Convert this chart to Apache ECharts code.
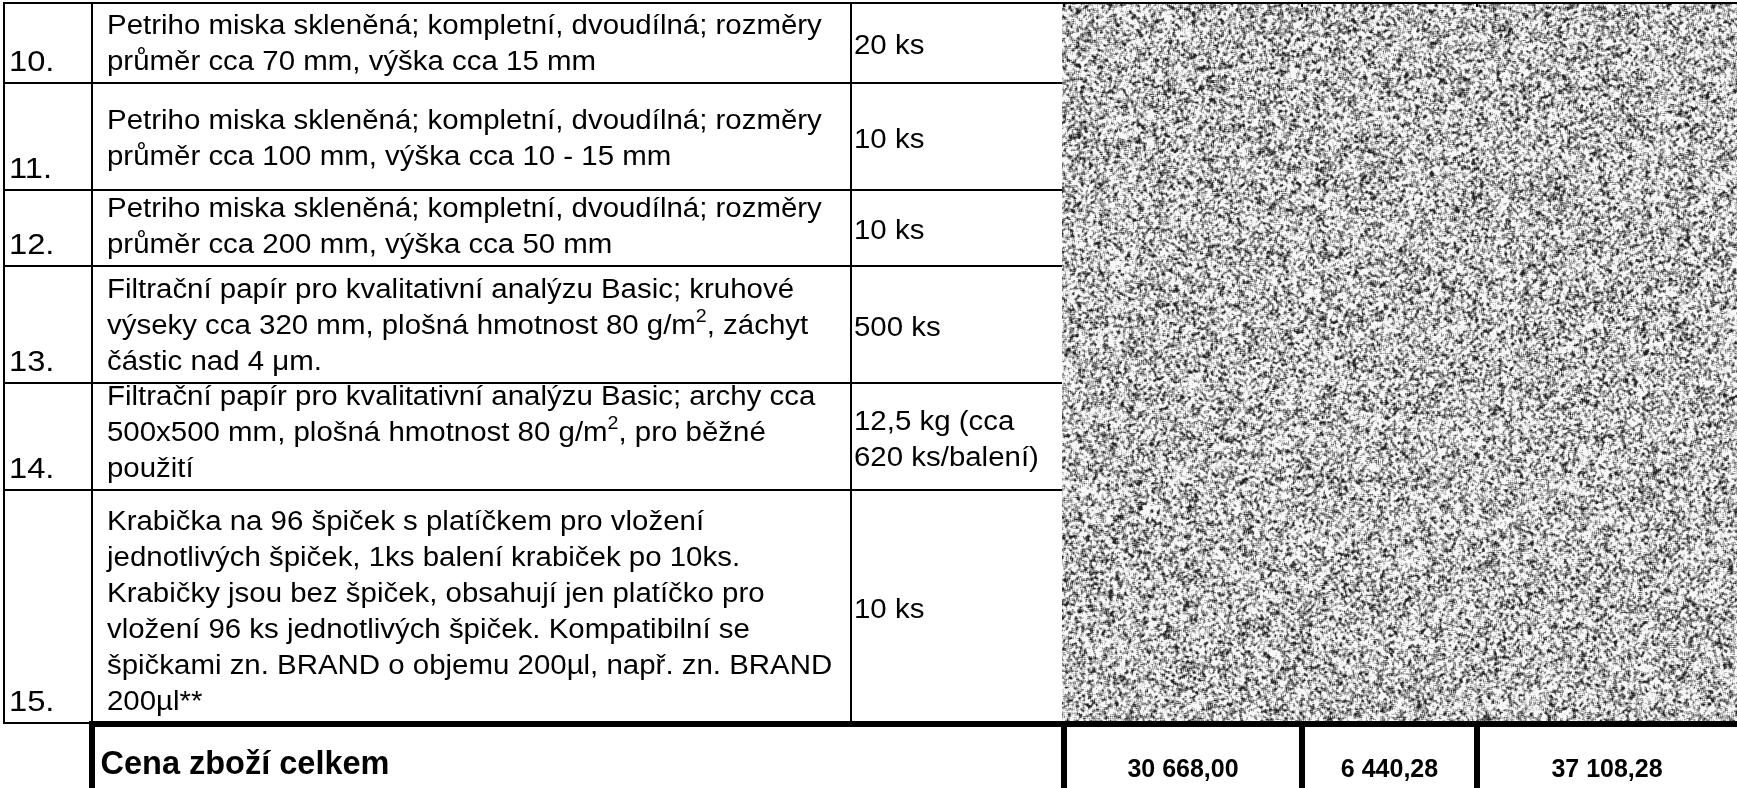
<!DOCTYPE html>
<html>
<head>
<meta charset="utf-8">
<script src="https://cdn.jsdelivr.net/npm/echarts@6/dist/echarts.min.js"></script>
<style type="text/css">
	html,body{margin:0;padding:0;background:#fff;}
	#main{width:1737px;height:788px;}
</style>
</head>
<body>
<div id="main"></div>
<script type="text/javascript">
// table content
var rowNumbers = ['10.', '11.', '12.', '13.', '14.', '15.'];
var descriptions = [
	['Petriho miska skleněná; kompletní, dvoudílná; rozměry', 'průměr cca 70 mm, výška cca 15 mm'],
	['Petriho miska skleněná; kompletní, dvoudílná; rozměry', 'průměr cca 100 mm, výška cca 10 - 15 mm'],
	['Petriho miska skleněná; kompletní, dvoudílná; rozměry', 'průměr cca 200 mm, výška cca 50 mm'],
	['Filtrační papír pro kvalitativní analýzu Basic; kruhové', 'výseky cca 320 mm, plošná hmotnost 80 g/m², záchyt', 'částic nad 4 μm.'],
	['Filtrační papír pro kvalitativní analýzu Basic; archy cca', '500x500 mm, plošná hmotnost 80 g/m², pro běžné', 'použití'],
	['Krabička na 96 špiček s platíčkem pro vložení', 'jednotlivých špiček, 1ks balení krabiček po 10ks.', 'Krabičky jsou bez špiček, obsahují jen platíčko pro', 'vložení 96 ks jednotlivých špiček. Kompatibilní se', 'špičkami zn. BRAND o objemu 200µl, např. zn. BRAND', '200µl**']
];
var quantities = [['20 ks'], ['10 ks'], ['10 ks'], ['500 ks'], ['12,5 kg (cca', '620 ks/balení)'], ['10 ks']];
var totalLabel = 'Cena zboží celkem';
var totalValues = ['30 668,00', '6 440,28', '37 108,28'];

// layout (pixels of the 1737x788 page)
var rowEdges = [3, 83, 190, 266, 383, 490, 723];
var descAlign = ['bottom', 'middle', 'bottom', 'bottom', 'bottom', 'bottom'];
var colEdges = [4, 92, 851, 1062];
var totalCols = [92, 1064, 1302, 1477, 1737];
var totalTop = 724, pageW = 1737, pageH = 788;
var FONT = '"Liberation Sans", Arial, sans-serif';
var STRETCH = 1.09;
var LINE_H = 36;

var mctx = document.createElement('canvas').getContext('2d');

// grey speckle for the blanked-out price columns (deterministic hash, not data)
function buildNoise(w, h){
	var c = document.createElement('canvas');
	c.width = w; c.height = h;
	var ctx = c.getContext('2d');
	var img = ctx.createImageData(w, h);
	function hash(x, y){
		var n = Math.imul(x, 374761393) ^ Math.imul(y, 668265263) ^ 0x5bd1e995;
		n = Math.imul(n ^ (n >>> 13), 1274126177);
		n = n ^ (n >>> 16);
		return (n >>> 0) / 4294967295;
	}
	var W = w + 2, H = h + 2;
	var base = new Float32Array(W * H);
	for (var y = 0; y < H; y++){
		for (var x = 0; x < W; x++) base[y * W + x] = hash(x, y);
	}
	for (var yy = 0; yy < h; yy++){
		for (var xx = 0; xx < w; xx++){
			var s = 0;
			for (var dy = 0; dy <= 2; dy++){
				for (var dx = 0; dx <= 2; dx++){
					s += base[(yy + dy) * W + xx + dx];
				}
			}
			s = s / 9;
			var g = 192 + (s - 0.5) * 760;
			g = Math.max(35, Math.min(248, g));
			var k = (yy * w + xx) * 4;
			img.data[k] = img.data[k + 1] = img.data[k + 2] = g;
			img.data[k + 3] = 255;
		}
	}
	ctx.putImageData(img, 0, 0);
	return c;
}
var noiseCanvas = buildNoise(pageW - colEdges[3], rowEdges[6] - 2 - rowEdges[0]);

function line(api, x1, y1, x2, y2, w){
	var a = api.coord([x1, y1]), b = api.coord([x2, y2]);
	return {type: 'line', shape: {x1: a[0], y1: a[1], x2: b[0], y2: b[1]}, style: {stroke: '#000', lineWidth: w}};
}

function textEl(p, str, size, weight, align, sx){
	return {
		type: 'text', x: p[0], y: p[1], scaleX: sx || 1,
		style: {text: str, fill: '#000', fontSize: size, fontFamily: FONT, fontWeight: weight || 'normal', align: align || 'left', verticalAlign: 'middle'}
	};
}

// one line of cell text, the ² is drawn as a raised small 2
function cellLine(p, str){
	var parts = str.split('²');
	if (parts.length === 1) return [textEl(p, str, 27, 'normal', 'left', STRETCH)];
	mctx.font = '27px ' + FONT;
	var w1 = mctx.measureText(parts[0]).width * STRETCH;
	mctx.font = '18px ' + FONT;
	var w2 = mctx.measureText('2').width * STRETCH;
	return [
		textEl(p, parts[0], 27, 'normal', 'left', STRETCH),
		textEl([p[0] + w1, p[1] - 10], '2', 18, 'normal', 'left', STRETCH),
		textEl([p[0] + w1 + w2, p[1]], parts[1], 27, 'normal', 'left', STRETCH)
	];
}

function renderRow(params, api){
	var i = api.value(0);
	var top = rowEdges[i], bot = rowEdges[i + 1], mid = (top + bot) / 2;
	var kids = [];
	if (i === 0) kids.push(line(api, colEdges[0] - 1, top, pageW, top, 2));
	kids.push(line(api, colEdges[0] - 1, bot, colEdges[3], bot, 2));
	for (var c = 0; c < 3; c++){
		kids.push(line(api, colEdges[c], top - 1, colEdges[c], bot + 1, 2));
	}
	// item number sits at the bottom of the cell
	kids.push(textEl(api.coord([colEdges[0] + 5, bot - 20]), rowNumbers[i], 30, 'normal', 'left', STRETCH));
	var d = descriptions[i];
	var last = descAlign[i] === 'bottom' ? bot - 20 : mid + 3 + (d.length - 1) / 2 * LINE_H;
	for (var k = 0; k < d.length; k++){
		var y = last - (d.length - 1 - k) * LINE_H;
		kids = kids.concat(cellLine(api.coord([colEdges[1] + 15, y]), d[k]));
	}
	var q = quantities[i];
	for (var m = 0; m < q.length; m++){
		var yq = mid + 4 + (m - (q.length - 1) / 2) * LINE_H;
		kids.push(textEl(api.coord([colEdges[2] + 3, yq]), q[m], 27, 'normal', 'left', STRETCH));
	}
	return {type: 'group', children: kids};
}

var totalCells = [totalLabel].concat(totalValues);
function renderTotal(params, api){
	var j = api.value(0);
	var kids = [];
	if (j === 0) kids.push(line(api, totalCols[0] - 3, totalTop, pageW, totalTop, 6));
	kids.push(line(api, totalCols[j], totalTop - 3, totalCols[j], pageH, 6));
	if (j === 0){
		kids.push(textEl(api.coord([totalCols[0] + 8.5, 765]), totalCells[j], 32.5, 'bold', 'left'));
	} else {
		kids.push(line(api, totalCols[j], rowEdges[0], totalCols[j], rowEdges[0] + 4, 2));
		kids.push(textEl(api.coord([(totalCols[j] + totalCols[j + 1]) / 2, 770]), totalCells[j], 25, 'bold', 'center'));
	}
	return {type: 'group', children: kids};
}

function renderNoise(params, api){
	var a = api.coord([colEdges[3], rowEdges[0] + 1]);
	var b = api.coord([pageW, rowEdges[6] - 1]);
	return {type: 'image', style: {image: noiseCanvas, x: a[0], y: a[1], width: b[0] - a[0], height: b[1] - a[1]}};
}

var myChart = echarts.init(document.getElementById('main'));
var option = {
	animation: false,
	grid: {left: 0, right: 0, top: 0, bottom: 0},
	xAxis: {type: 'value', min: 0, max: pageW, show: false},
	yAxis: {type: 'value', min: 0, max: pageH, inverse: true, show: false},
	series: [
		{type: 'custom', name: 'noise', renderItem: renderNoise, data: [[0, 0]], silent: true},
		{type: 'custom', name: 'rows', renderItem: renderRow, data: rowNumbers.map(function(n, i){ return [i, i]; }), silent: true},
		{type: 'custom', name: 'total', renderItem: renderTotal, data: totalCells.map(function(t, j){ return [j, j]; }), silent: true}
	]
};
myChart.setOption(option);
</script>
</body>
</html>
